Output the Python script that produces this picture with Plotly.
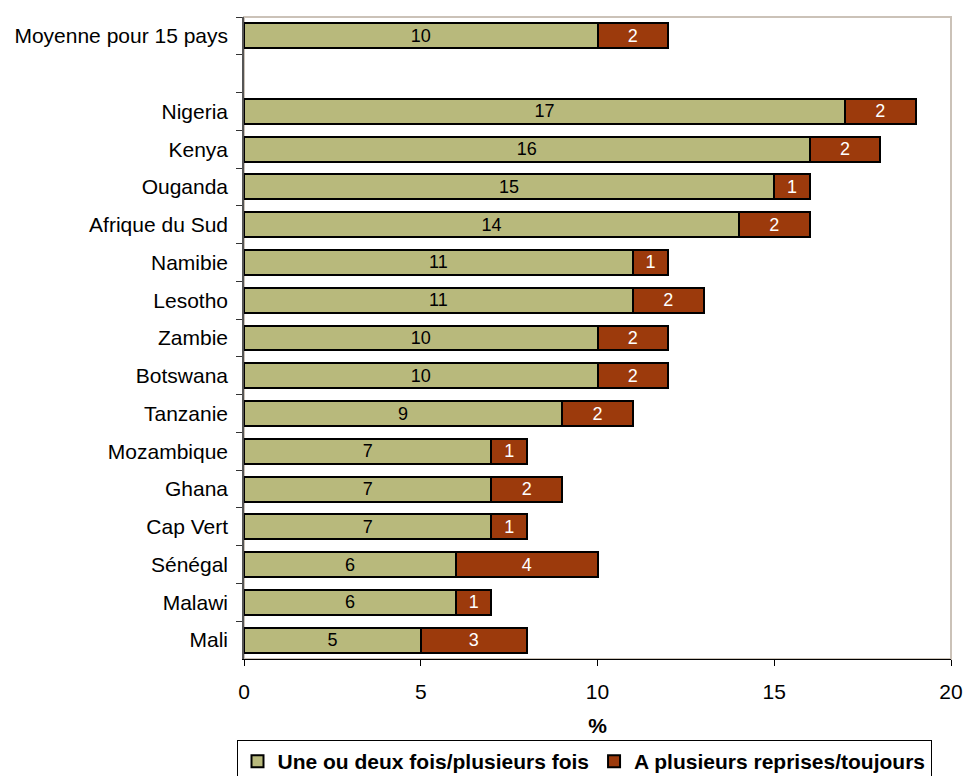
import plotly.graph_objects as go

categories = ["Moyenne pour 15 pays", " ", "Nigeria", "Kenya", "Ouganda", "Afrique du Sud",
              "Namibie", "Lesotho", "Zambie", "Botswana", "Tanzanie", "Mozambique",
              "Ghana", "Cap Vert", "Sénégal", "Malawi", "Mali"]
once_twice = [10, None, 17, 16, 15, 14, 11, 11, 10, 10, 9, 7, 7, 7, 6, 6, 5]
repeatedly = [2, None, 2, 2, 1, 2, 1, 2, 2, 2, 2, 1, 2, 1, 4, 1, 3]
series_names = ["Une ou deux fois/plusieurs fois", "A plusieurs reprises/toujours"]
x_ticks = [0, 5, 10, 15, 20]

FONT = "Arial, Liberation Sans, sans-serif"
GREEN = "#B8B97C"
BROWN = "#9C3A0C"

fig = go.Figure()
fig.add_trace(go.Bar(
    y=categories, x=once_twice, orientation="h", name=series_names[0],
    marker=dict(color=GREEN, line=dict(color="black", width=2)),
    text=once_twice, textposition="inside", insidetextanchor="middle", textangle=0,
    constraintext="none",
    textfont=dict(family=FONT, size=18, color="black"),
))
fig.add_trace(go.Bar(
    y=categories, x=repeatedly, orientation="h", name=series_names[1],
    marker=dict(color=BROWN, line=dict(color="black", width=2)),
    text=repeatedly, textposition="inside", insidetextanchor="middle", textangle=0,
    constraintext="none",
    textfont=dict(family=FONT, size=18, color="white"),
))

fig.update_layout(
    barmode="stack",
    bargap=0.34,
    width=963, height=776,
    margin=dict(l=244, r=12, t=17, b=117, autoexpand=False),
    paper_bgcolor="white", plot_bgcolor="white",
    font=dict(family=FONT, size=21, color="black"),
    showlegend=True,
    legend=dict(
        orientation="h", traceorder="normal",
        xref="container", x=584 / 963, xanchor="center",
        yref="container", y=1 - 740 / 776, yanchor="top",
        bordercolor="black", borderwidth=1,
        font=dict(family=FONT, size=21, color="black", weight="bold"),
        itemwidth=30, tracegroupgap=0,
    ),
    uniformtext=dict(mode=False),
)

fig.update_xaxes(
    range=[0, 20], tickvals=x_ticks, ticktext=[str(v) for v in x_ticks],
    showgrid=False, zeroline=False, automargin=False,
    showline=True, linecolor="black", linewidth=1,
    ticks="outside", ticklen=6, tickcolor="black",
    tickfont=dict(family=FONT, size=21, color="black"),
    ticklabelstandoff=8,
    title=dict(text="%", font=dict(family=FONT, size=21, color="black", weight="bold"), standoff=16),
)
fig.update_yaxes(
    type="category", categoryorder="array", categoryarray=categories,
    range=[len(categories) - 0.5, -0.5], automargin=False,
    showgrid=False, zeroline=False,
    showline=True, linecolor="#555555", linewidth=1.5,
    ticks="outside", ticklen=6, tickcolor="#333333", tickson="boundaries",
    tickfont=dict(family=FONT, size=21, color="black"),
    ticklabelstandoff=10,
)

fig.add_shape(type="rect", xref="paper", yref="paper", x0=0, x1=1, y0=0, y1=1,
              line=dict(color="#CBC2B8", width=2), layer="below")

fig.write_html("out.html")
